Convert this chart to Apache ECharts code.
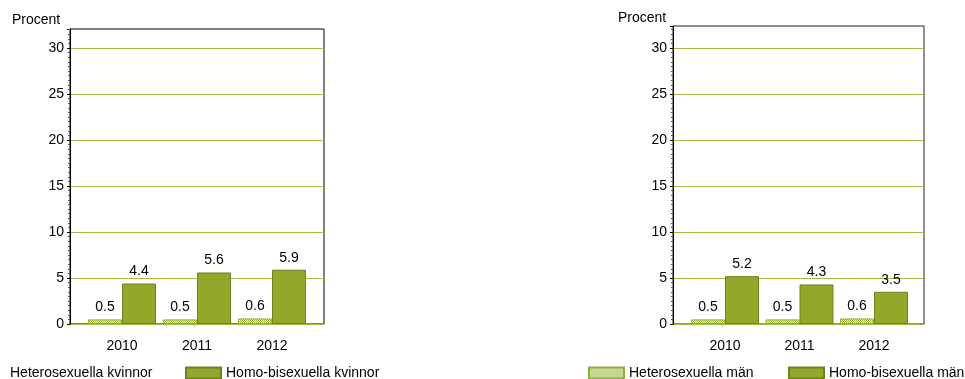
<!DOCTYPE html>
<html>
<head>
<meta charset="utf-8">
<script src="https://cdn.jsdelivr.net/npm/echarts@6/dist/echarts.min.js"></script>
<style>html,body{margin:0;padding:0;background:#fff}#c{width:965px;height:379px}</style>
</head>
<body>
<div id="c"></div>
<script>
const years = ['2010', '2011', '2012'];
const heteroKvinnor = [0.5, 0.5, 0.6];
const homoKvinnor = [4.4, 5.6, 5.9];
const heteroMan = [0.5, 0.5, 0.6];
const homoMan = [5.2, 4.3, 3.5];
const seriesNames = ['Heterosexuella kvinnor', 'Homo-bisexuella kvinnor', 'Heterosexuella män', 'Homo-bisexuella män'];
const yTitle = 'Procent';

const FONT = 'Liberation Sans, Arial, sans-serif';
const FS = 14;
const GREEN = '#93a82a';
const GREEN_BORDER = '#6b8220';
const GRID_LINE = '#a3ba45';

function makePattern() {
  const cv = document.createElement('canvas');
  cv.width = 2; cv.height = 2;
  const ctx = cv.getContext('2d');
  ctx.fillStyle = '#ffffff'; ctx.fillRect(0, 0, 2, 2);
  ctx.fillStyle = '#8fae30';
  ctx.fillRect(0, 0, 1, 1); ctx.fillRect(1, 1, 1, 1);
  return { image: cv, repeat: 'repeat' };
}
const pattern = makePattern();

const chart = echarts.init(document.getElementById('c'), null, { renderer: 'canvas' });

function frameY(gridIndex, max) {
  return {
    type: 'value', gridIndex: gridIndex, min: 0, max: max, interval: 5,
    axisLine: { show: true, lineStyle: { color: '#000', width: 1 } },
    axisTick: { show: true, length: 3, lineStyle: { color: '#000' } },
    minorTick: { show: true, splitNumber: 10, length: 2, lineStyle: { color: '#555' } },
    axisLabel: { fontSize: FS, color: '#000', fontFamily: FONT, margin: 6, showMaxLabel: false },
    splitLine: { show: true, showMaxLine: false, lineStyle: { color: GRID_LINE, width: 1 } }
  };
}
function hiddenY(gridIndex, max) {
  return { type: 'value', gridIndex: gridIndex, min: 0, max: max, show: false, splitLine: { show: false } };
}
function barX(gridIndex) {
  return {
    type: 'category', gridIndex: gridIndex, data: years,
    axisLine: { show: false }, axisTick: { show: false },
    axisLabel: { fontSize: FS, color: '#000', fontFamily: FONT, margin: 15 }
  };
}
function frameX(gridIndex) {
  return { type: 'value', gridIndex: gridIndex, show: false, min: 0, max: 1, splitLine: { show: false } };
}
function barSeries(name, data, xi, yi, hetero) {
  return {
    type: 'bar', name: name, data: data, xAxisIndex: xi, yAxisIndex: yi,
    barWidth: 34, barGap: '0%',
    itemStyle: hetero
      ? { color: pattern, borderColor: '#8fae3a', borderWidth: 1 }
      : { color: GREEN, borderColor: GREEN_BORDER, borderWidth: 1 },
    label: { show: true, position: 'top', distance: 5, fontSize: FS, color: '#000', fontFamily: FONT },
    emphasis: { disabled: true }
  };
}
function legend(name, left, hideIcon) {
  return {
    data: [hideIcon ? { name: name, itemStyle: { opacity: 0 } } : name],
    left: left, top: 366, itemWidth: 35, itemHeight: 11, padding: 0, icon: 'rect',
    textStyle: { fontSize: FS, color: '#000', fontFamily: FONT }, selectedMode: false
  };
}

const maxL = 295 / 9.2, maxR = 298 / 9.2;

chart.setOption({
  animation: false,
  title: [
    { text: yTitle, left: 12, top: 13, padding: 0, textStyle: { fontSize: FS, fontWeight: 'normal', color: '#000', fontFamily: FONT } },
    { text: yTitle, left: 618, top: 11, padding: 0, textStyle: { fontSize: FS, fontWeight: 'normal', color: '#000', fontFamily: FONT } }
  ],
  grid: [
    { left: 70, right: 965 - 324, top: 29, bottom: 379 - 324, show: true, borderColor: '#000', borderWidth: 1, backgroundColor: 'transparent' },
    { left: 84.5, right: 965 - 309.5, top: 29, bottom: 379 - 324 },
    { left: 673, right: 965 - 924, top: 26, bottom: 379 - 324, show: true, borderColor: '#222', borderWidth: 1, backgroundColor: 'transparent' },
    { left: 687.75, right: 965 - 911.25, top: 26, bottom: 379 - 324 }
  ],
  xAxis: [frameX(0), barX(1), frameX(2), barX(3)],
  yAxis: [frameY(0, maxL), hiddenY(1, maxL), frameY(2, maxR), hiddenY(3, maxR)],
  legend: [
    legend(seriesNames[0], -31, true),
    legend(seriesNames[1], 185),
    legend(seriesNames[2], 588),
    legend(seriesNames[3], 788)
  ],
  series: [
    barSeries(seriesNames[0], heteroKvinnor, 1, 1, true),
    barSeries(seriesNames[1], homoKvinnor, 1, 1, false),
    barSeries(seriesNames[2], heteroMan, 3, 3, true),
    barSeries(seriesNames[3], homoMan, 3, 3, false)
  ]
});
</script>
</body>
</html>
